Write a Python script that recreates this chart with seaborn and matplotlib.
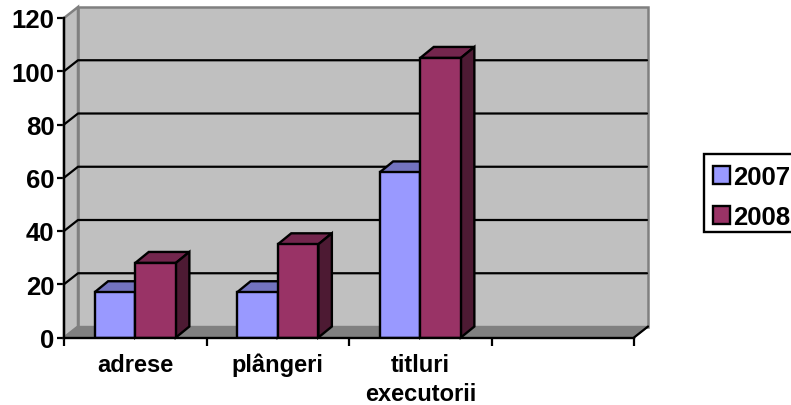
import pandas as pd
import matplotlib
matplotlib.use("Agg")
import matplotlib.pyplot as plt
from matplotlib.colors import to_rgb
from matplotlib.patches import Polygon, Rectangle
import seaborn as sns

# ---- data ----
categories = ["adrese", "plângeri", "titluri\nexecutorii"]
empty_slot = " "
values_2007 = [17, 17, 62]
values_2008 = [28, 35, 105]
years = ["2007", "2008"]
yticks = [0, 20, 40, 60, 80, 100, 120]

colors = {"2007": "#9999FF", "2008": "#993366"}
wall = "#C0C0C0"
floor = "#808080"

W, H = 791, 406
# fake 3d depth in pixels
depth_px = (14, 11)
bar_depth_px = (13.5, 11)
plot_top, plot_bottom = 19, 338.5

df = pd.DataFrame({
    "categorie": categories * 2,
    "an": [years[0]] * 3 + [years[1]] * 3,
    "valoare": values_2007 + values_2008,
})

sns.set_style("white")
plt.rcParams["font.family"] = ["Liberation Sans", "DejaVu Sans"]
plt.rcParams["font.weight"] = "bold"
plt.rcParams["text.color"] = "black"
plt.rcParams["xtick.color"] = "black"
plt.rcParams["ytick.color"] = "black"

fig = plt.figure(figsize=(W / 100, H / 100), dpi=100)
ax = fig.add_axes([64 / W, (H - plot_bottom) / H, 570 / W, (plot_bottom - plot_top) / H])
ax.patch.set_visible(False)

sns.barplot(data=df, x="categorie", y="valoare", hue="an",
            order=categories + [empty_slot], hue_order=years, palette=colors,
            width=0.57, gap=0, saturation=1, edgecolor="black", linewidth=1.7,
            ax=ax, zorder=5)
ax.set_xlim(-0.5, 3.5)
ax.set_ylim(0, 120)

# pixel -> data units
px_x = 4 / 570
px_y = 120 / (plot_bottom - plot_top)
dx, dy = depth_px[0] * px_x, depth_px[1] * px_y
bx, by = bar_depth_px[0] * px_x, bar_depth_px[1] * px_y
x0, x1 = ax.get_xlim()

# walls and floor
ax.add_patch(Polygon([(x0 + dx, dy), (x1 + dx, dy), (x1 + dx, 120 + dy), (x0 + dx, 120 + dy)],
                     fc=wall, ec=floor, lw=1.8, clip_on=False, zorder=1))
ax.add_patch(Polygon([(x0, 0), (x0 + dx, dy), (x0 + dx, 120 + dy), (x0, 120)],
                     fc=wall, ec=floor, lw=1.8, clip_on=False, zorder=1))
ax.add_patch(Polygon([(x0, 0), (x1, 0), (x1 + dx, dy), (x0 + dx, dy)],
                     fc=floor, ec=floor, lw=1, clip_on=False, zorder=1.5))
ax.plot([x1, x1 + dx], [0, dy], color="black", lw=1.6, clip_on=False, zorder=2)

# gridlines run over the side wall and back wall
for v in yticks[1:-1]:
    ax.plot([x0, x0 + dx, x1 + dx - 1 * px_x], [v, v + dy, v + dy], color="black", lw=1.6,
            clip_on=False, zorder=2)

# top and side faces of each column
for i, (year, cont) in enumerate(zip(years, ax.containers)):
    rgb = to_rgb(colors[year])
    top_c = tuple(c * 0.75 for c in rgb)
    side_c = tuple(c * 0.5 for c in rgb)
    for bar in cont:
        h = bar.get_height()
        if not h == h or h == 0:
            continue
        l, r = bar.get_x(), bar.get_x() + bar.get_width()
        z = 3 + i
        bar.set_zorder(z + 0.2)
        ax.add_patch(Polygon([(l, h), (r, h), (r + bx, h + by), (l + bx, h + by)],
                             fc=top_c, ec="black", lw=1.7, clip_on=False, zorder=z))
        ax.add_patch(Polygon([(r, 0), (r + bx, by), (r + bx, h + by), (r, h)],
                             fc=side_c, ec="black", lw=1.7, clip_on=False, zorder=z))

# axes
sns.despine(ax=ax, top=True, right=True)
for s in ["left", "bottom"]:
    ax.spines[s].set_color("black")
    ax.spines[s].set_linewidth(1.7)
    ax.spines[s].set_zorder(8)

ax.set_yticks(yticks)
ax.tick_params(axis="y", length=5, width=1.6, color="black", pad=2, labelsize=18.5, left=True)
ax.set_xticks(range(4))
ax.set_xticklabels(categories + [""], fontsize=17, fontweight="bold", linespacing=1.32)
ax.set_xticks([x0 + k for k in range(5)], minor=True)
ax.tick_params(axis="x", which="major", length=0, pad=11)
ax.tick_params(axis="x", which="minor", length=6, width=1.6, color="black", bottom=True)
ax.set_xlabel("")
ax.set_ylabel("")

# legend box runs past the right edge of the picture, so the frame is drawn apart
fig.add_artist(Rectangle((704 / W, 1 - 233 / H), 120 / W, 78 / H, transform=fig.transFigure,
                         fc="white", ec="black", lw=1.7, zorder=-1))
handles, labels = ax.get_legend_handles_labels()
leg = ax.legend(handles, labels, loc="upper left", bbox_to_anchor=(713 / W, 1 - 166 / H),
                bbox_transform=fig.transFigure, frameon=False, fontsize=18.5,
                handlelength=0.66, handleheight=0.66, handletextpad=0.12, labelspacing=0.62,
                borderpad=0, borderaxespad=0)
leg.set_zorder(10)

fig.savefig("out.png", dpi=100)
